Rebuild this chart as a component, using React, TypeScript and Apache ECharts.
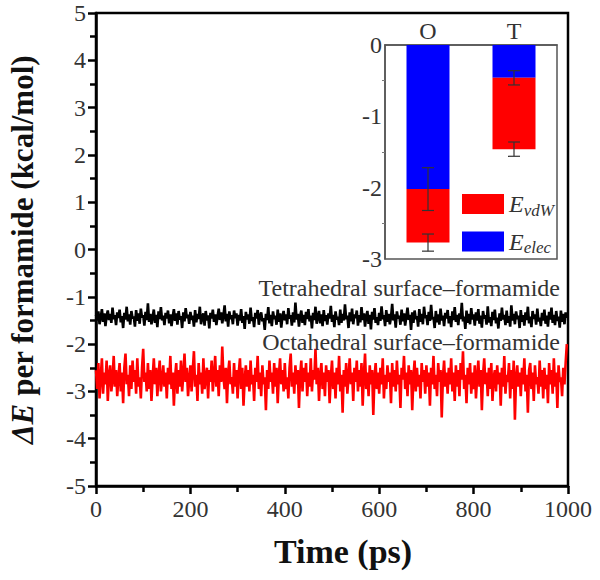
import React, { useEffect, useRef } from "react";
import * as echarts from "echarts";

// Main plot: interaction energy time series (2.5 ps spacing)
const timeStepPs = 2.5;
const tetrahedralSeries = [
  -1.38,-1.50,-1.31,-1.58,-1.44,-1.26,-1.53,-1.35,-1.62,-1.40,-1.29,-1.49,-1.36,-1.55,-1.23,-1.47,-1.39,-1.60,-1.33,-1.45,
  -1.27,-1.54,-1.41,-1.66,-1.34,-1.48,-1.21,-1.52,-1.37,-1.59,-1.30,-1.46,-1.42,-1.63,-1.28,-1.51,-1.35,-1.57,-1.25,-1.44,
  -1.39,-1.61,-1.32,-1.49,-1.14,-1.53,-1.36,-1.58,-1.43,-1.27,-1.55,-1.38,-1.64,-1.31,-1.47,-1.22,-1.50,-1.40,-1.60,-1.34,
  -1.46,-1.29,-1.56,-1.37,-1.62,-1.42,-1.26,-1.51,-1.35,-1.59,-1.30,-1.48,-1.41,-1.66,-1.33,-1.52,-1.24,-1.45,-1.38,-1.57,
  -1.32,-1.49,-1.40,-1.63,-1.28,-1.54,-1.36,-1.47,-1.21,-1.58,-1.43,-1.35,-1.61,-1.30,-1.50,-1.39,-1.67,-1.34,-1.46,-1.27,
  -1.53,-1.37,-1.60,-1.42,-1.25,-1.49,-1.33,-1.56,-1.40,-1.18,-1.52,-1.36,-1.63,-1.31,-1.47,-1.39,-1.58,-1.29,-1.45,-1.35,
  -1.61,-1.38,-1.50,-1.26,-1.55,-1.41,-1.68,-1.32,-1.48,-1.37,-1.57,-1.23,-1.51,-1.43,-1.64,-1.34,-1.46,-1.28,-1.59,-1.40,
  -1.33,-1.52,-1.45,-1.70,-1.36,-1.49,-1.22,-1.56,-1.38,-1.62,-1.31,-1.47,-1.40,-1.59,-1.27,-1.53,-1.35,-1.65,-1.42,-1.30,
  -1.50,-1.37,-1.58,-1.24,-1.46,-1.39,-1.61,-1.33,-1.54,-1.12,-1.48,-1.36,-1.63,-1.41,-1.29,-1.55,-1.38,-1.60,-1.32,-1.47,
  -1.26,-1.52,-1.40,-1.67,-1.34,-1.49,-1.21,-1.57,-1.43,-1.30,-1.56,-1.37,-1.62,-1.28,-1.51,-1.39,-1.59,-1.35,-1.46,-1.19,
  -1.53,-1.38,-1.64,-1.31,-1.48,-1.42,-1.60,-1.27,-1.55,-1.36,-1.50,-1.16,-1.47,-1.40,-1.66,-1.33,-1.52,-1.25,-1.58,-1.37,
  -1.45,-1.29,-1.61,-1.39,-1.54,-1.22,-1.49,-1.35,-1.63,-1.41,-1.30,-1.57,-1.38,-1.69,-1.32,-1.48,-1.24,-1.55,-1.43,-1.60,
  -1.34,-1.51,-1.20,-1.47,-1.39,-1.62,-1.28,-1.53,-1.36,-1.58,-1.44,-1.15,-1.50,-1.37,-1.65,-1.31,-1.46,-1.40,-1.59,-1.27,
  -1.52,-1.35,-1.61,-1.42,-1.23,-1.49,-1.38,-1.70,-1.33,-1.55,-1.29,-1.47,-1.41,-1.63,-1.26,-1.53,-1.36,-1.58,-1.21,-1.45,
  -1.39,-1.60,-1.32,-1.51,-1.17,-1.48,-1.43,-1.66,-1.30,-1.54,-1.37,-1.59,-1.25,-1.50,-1.40,-1.62,-1.34,-1.46,-1.28,-1.56,
  -1.41,-1.64,-1.31,-1.49,-1.22,-1.53,-1.38,-1.60,-1.35,-1.47,-1.13,-1.52,-1.42,-1.68,-1.29,-1.55,-1.36,-1.58,-1.24,-1.48,
  -1.37,-1.61,-1.33,-1.50,-1.26,-1.57,-1.40,-1.65,-1.30,-1.46,-1.39,-1.59,-1.20,-1.54,-1.43,-1.62,-1.32,-1.49,-1.27,-1.56,
  -1.44,-1.67,-1.35,-1.51,-1.23,-1.48,-1.38,-1.60,-1.29,-1.55,-1.41,-1.63,-1.18,-1.50,-1.36,-1.58,-1.31,-1.47,-1.40,-1.66,
  -1.28,-1.53,-1.39,-1.61,-1.33,-1.49,-1.21,-1.56,-1.42,-1.64,-1.30,-1.47,-1.37,-1.59,-1.25,-1.52,-1.44,-1.62,-1.34,-1.50,
  -1.27,-1.57,-1.40,-1.63,-1.32,-1.48,-1.23,-1.55,-1.38,-1.60,-1.30,-1.51,-1.42,-1.65,-1.29,-1.53,-1.36,-1.58,-1.33,-1.45,
];
const octahedralSeries = [
  -2.55,-2.95,-2.40,-3.15,-2.70,-2.30,-3.05,-2.60,-2.85,-2.35,-3.20,-2.65,-2.45,-3.00,-2.75,-2.25,-2.90,-2.55,-3.10,-2.70,
  -2.40,-3.00,-2.60,-3.25,-2.50,-2.20,-2.85,-2.65,-3.10,-2.45,-2.95,-2.35,-2.80,-2.55,-3.05,-2.30,-2.90,-2.70,-3.15,-2.50,
  -2.10,-2.80,-2.60,-3.00,-2.40,-2.95,-2.55,-3.20,-2.70,-2.30,-2.85,-2.50,-3.10,-2.65,-2.35,-3.00,-2.75,-2.45,-2.90,-2.60,
  -3.15,-2.50,-2.85,-2.25,-2.95,-2.60,-3.30,-2.70,-2.40,-3.05,-2.55,-2.90,-2.35,-3.00,-2.65,-2.20,-2.80,-2.50,-3.10,-2.75,
  -2.45,-3.00,-2.55,-2.15,-2.90,-2.65,-3.20,-2.40,-2.85,-2.60,-3.05,-2.30,-2.95,-2.70,-2.50,-3.15,-2.55,-2.80,-2.35,-3.00,
  -2.65,-2.25,-2.90,-2.55,-3.10,-2.45,-2.80,-2.05,-2.70,-2.95,-2.50,-3.25,-2.60,-2.35,-2.85,-2.70,-3.05,-2.40,-2.90,-2.55,
  -3.15,-2.60,-2.30,-2.95,-2.50,-3.30,-2.75,-2.45,-2.90,-2.55,-3.00,-2.35,-2.85,-2.65,-3.20,-2.50,-2.80,-2.25,-2.95,-2.60,
  -3.10,-2.45,-2.85,-2.70,-3.40,-2.55,-2.95,-2.35,-2.80,-2.60,-3.05,-2.40,-2.90,-2.50,-3.25,-2.65,-2.30,-2.85,-2.55,-3.00,
  -2.40,-2.95,-2.70,-3.15,-2.50,-2.20,-2.90,-2.60,-3.05,-2.45,-2.85,-2.55,-3.35,-2.65,-2.35,-3.00,-2.50,-2.80,-2.40,-3.10,
  -2.60,-2.90,-2.30,-3.00,-2.55,-2.75,-2.10,-2.85,-2.50,-3.20,-2.65,-2.40,-2.95,-2.60,-3.10,-2.45,-2.80,-2.55,-3.25,-2.70,
  -2.35,-2.95,-2.60,-3.15,-2.50,-2.85,-2.25,-3.00,-2.65,-3.45,-2.55,-2.90,-2.40,-3.05,-2.70,-2.30,-2.85,-2.60,-3.20,-2.50,
  -2.80,-2.35,-3.00,-2.55,-2.90,-2.40,-3.30,-2.65,-2.20,-2.95,-2.60,-3.10,-2.45,-2.85,-2.55,-3.50,-2.70,-2.40,-2.95,-2.60,
  -3.05,-2.50,-2.85,-2.30,-3.15,-2.65,-2.95,-2.45,-2.80,-2.60,-3.25,-2.40,-2.90,-2.55,-3.00,-2.35,-2.85,-2.65,-3.35,-2.50,
  -2.75,-2.25,-2.95,-2.60,-3.10,-2.45,-2.85,-2.55,-3.40,-2.70,-2.35,-3.00,-2.50,-2.90,-2.65,-3.15,-2.40,-2.80,-2.55,-3.05,
  -2.45,-2.90,-2.60,-3.30,-2.50,-2.85,-2.25,-2.95,-2.65,-3.10,-2.40,-2.80,-2.55,-3.55,-2.70,-2.35,-2.90,-2.60,-3.05,-2.50,
  -2.85,-2.30,-3.00,-2.60,-3.20,-2.45,-2.90,-2.55,-3.10,-2.40,-2.75,-2.15,-2.95,-2.65,-3.25,-2.50,-2.85,-2.40,-3.05,-2.60,
  -2.95,-2.45,-3.15,-2.70,-2.35,-2.90,-2.55,-3.40,-2.65,-2.30,-2.85,-2.60,-3.10,-2.50,-2.95,-2.40,-3.20,-2.70,-2.55,-3.00,
  -2.45,-2.85,-2.60,-3.30,-2.50,-2.90,-2.25,-3.05,-2.65,-2.80,-2.40,-3.15,-2.55,-2.95,-2.35,-3.60,-2.70,-2.45,-2.90,-2.60,
  -3.10,-2.50,-2.85,-2.30,-3.00,-2.65,-3.45,-2.55,-2.40,-2.95,-2.60,-3.20,-2.45,-2.85,-2.70,-3.05,-2.35,-2.90,-2.55,-3.15,
  -2.50,-2.95,-2.65,-3.25,-2.40,-2.85,-2.55,-3.05,-2.30,-2.90,-2.60,-3.35,-2.45,-2.80,-2.70,-3.10,-2.50,-2.85,-2.40,-2.00,
];
const seriesLabels = ["Tetrahedral surface\u2013formamide", "Octahedral surface\u2013formamide"];

// Inset: energy decomposition
const insetCategories = ["O", "T"];
const elecValues = [-2.02, -0.46];
const vdwValues = [-0.75, -1.0];
const elecErrors = [0.3, 0.1];
const totalErrors = [0.12, 0.1];

const SERIF = "'Liberation Serif', 'DejaVu Serif', serif";

export default function App() {
  const ref = useRef<HTMLDivElement>(null);
  useEffect(() => {
    document.body.style.margin = "0";
    if (!ref.current) return;
    const chart = echarts.init(ref.current, undefined, { renderer: "svg" });
    const toPairs = (arr: number[]) => arr.map((v, i) => [i * timeStepPs, v]);
    const errData: number[][] = [];
    insetCategories.forEach((_, i) => {
      errData.push([i, elecValues[i], elecErrors[i]]);
      errData.push([i, elecValues[i] + vdwValues[i], totalErrors[i]]);
    });
    const axisLabelStyle = { fontFamily: SERIF, fontSize: 24, color: "#333" };
    chart.setOption({
      animation: false,
      backgroundColor: "#fff",
      grid: [
        { left: 96, top: 13, width: 472, height: 473, show: true, borderColor: "#000", borderWidth: 2.5, backgroundColor: "transparent", containLabel: false, outerBoundsMode: "none" },
        { left: 385, top: 45, width: 172, height: 214, show: true, borderColor: "#555", borderWidth: 1.5, backgroundColor: "#fff", z: 5, containLabel: false, outerBoundsMode: "none" },
      ],
      xAxis: [
        {
          gridIndex: 0, type: "value", min: 0, max: 1000, interval: 200,
          axisLine: { onZero: false, lineStyle: { color: "#000", width: 2.5 } },
          axisTick: { length: 8, lineStyle: { width: 2.5, color: "#000" } },
          minorTick: { show: true, splitNumber: 2, length: 6, lineStyle: { width: 2.5, color: "#000" } },
          splitLine: { show: false },
          axisLabel: { ...axisLabelStyle, margin: 11, formatter: (v: number) => String(v) },
          name: "Time (ps)", nameLocation: "middle", nameGap: 48,
          nameTextStyle: { fontFamily: SERIF, fontSize: 34, fontWeight: "bold", color: "#111", padding: [0, 0, 0, 22] },
        },
        {
          gridIndex: 1, type: "category", data: insetCategories, position: "top",
          axisLine: { lineStyle: { color: "#555", width: 1.5 } },
          axisTick: { show: false },
          axisLabel: { ...axisLabelStyle, margin: 2 },
          z: 6,
        },
      ],
      yAxis: [
        {
          gridIndex: 0, type: "value", min: -5, max: 5, interval: 1,
          axisLine: { onZero: false, lineStyle: { color: "#000", width: 2.5 } },
          axisTick: { length: 8, lineStyle: { width: 2.5, color: "#000" } },
          minorTick: { show: true, splitNumber: 2, length: 6, lineStyle: { width: 2.5, color: "#000" } },
          splitLine: { show: false },
          axisLabel: { ...axisLabelStyle, margin: 10 },
          name: "{i|\u0394E} per formamide (kcal/mol)", nameLocation: "middle", nameGap: 58,
          nameTextStyle: {
            fontFamily: SERIF, fontSize: 31, fontWeight: "bold", color: "#111",
            rich: { i: { fontFamily: SERIF, fontSize: 31, fontWeight: "bold", fontStyle: "italic", color: "#111" } },
          },
        },
        {
          gridIndex: 1, type: "value", min: -3, max: 0, interval: 1,
          axisLine: { show: true, onZero: false, lineStyle: { color: "#555", width: 1.5 } },
          axisTick: { show: false },
          minorTick: { show: true, splitNumber: 2, length: 3, lineStyle: { color: "#777", width: 1 } },
          splitLine: { show: false },
          axisLabel: { ...axisLabelStyle, margin: 3 },
          z: 6,
        },
      ],
      legend: {
        data: ["vdW", "elec"], orient: "vertical", left: 462, top: 192, itemGap: 11, padding: 0,
        itemWidth: 42, itemHeight: 20, icon: "rect", z: 10,
        formatter: (n: string) => `{e|E}{s|${n}}`,
        textStyle: {
          rich: {
            e: { fontFamily: SERIF, fontSize: 24, fontStyle: "italic", color: "#333" },
            s: { fontFamily: SERIF, fontSize: 17, fontStyle: "italic", color: "#333", padding: [12, 0, 0, 0] },
          },
        },
        itemStyle: { borderWidth: 0 },
      },
      series: [
        { type: "line", xAxisIndex: 0, yAxisIndex: 0, data: toPairs(tetrahedralSeries), showSymbol: false, lineStyle: { color: "#000", width: 2.6 }, itemStyle: { color: "#000" } },
        { type: "line", xAxisIndex: 0, yAxisIndex: 0, data: toPairs(octahedralSeries), showSymbol: false, lineStyle: { color: "#ff0000", width: 2.6 }, itemStyle: { color: "#ff0000" } },
        { name: "elec", type: "bar", xAxisIndex: 1, yAxisIndex: 1, stack: "e", data: elecValues, barWidth: "50%", itemStyle: { color: "#0000ff" }, z: 6 },
        { name: "vdW", type: "bar", xAxisIndex: 1, yAxisIndex: 1, stack: "e", data: vdwValues, barWidth: "50%", itemStyle: { color: "#ff0000" }, z: 6 },
        {
          type: "custom", xAxisIndex: 1, yAxisIndex: 1, data: errData, z: 8,
          renderItem: (params: any, api: any) => {
            const x = api.value(0), y = api.value(1), e = api.value(2);
            const top = api.coord([x, y + e]);
            const bot = api.coord([x, y - e]);
            const w = 6;
            const style = { stroke: "#333", lineWidth: 1.2 };
            return {
              type: "group",
              children: [
                { type: "line", shape: { x1: top[0], y1: top[1], x2: bot[0], y2: bot[1] }, style },
                { type: "line", shape: { x1: top[0] - w, y1: top[1], x2: top[0] + w, y2: top[1] }, style },
                { type: "line", shape: { x1: bot[0] - w, y1: bot[1], x2: bot[0] + w, y2: bot[1] }, style },
              ],
            };
          },
        },
      ],
      graphic: [
        { type: "text", right: 40, top: 276, z: 20, style: { text: seriesLabels[0], fontFamily: SERIF, fontSize: 24, fill: "#333" } },
        { type: "text", right: 40, top: 330, z: 20, style: { text: seriesLabels[1], fontFamily: SERIF, fontSize: 24, fill: "#333" } },
      ],
    });
    return () => chart.dispose();
  }, []);
  return <div ref={ref} style={{ width: 600, height: 580 }} />;
}
